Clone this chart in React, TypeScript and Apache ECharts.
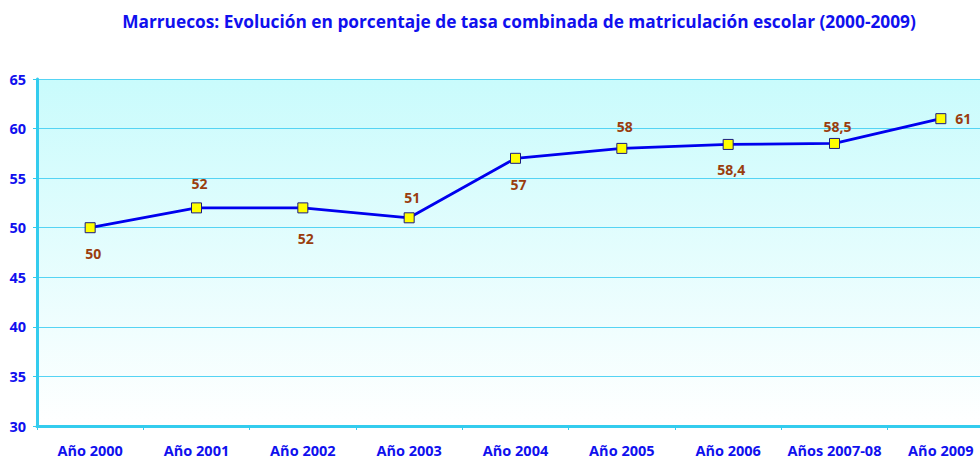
import React, { useEffect, useRef } from "react";
import * as echarts from "echarts";

const categories = ["Año 2000", "Año 2001", "Año 2002", "Año 2003", "Año 2004", "Año 2005", "Año 2006", "Años 2007-08", "Año 2009"];
const values = [50, 52, 52, 51, 57, 58, 58.4, 58.5, 61];
const labelPositions = ["bottom", "top", "bottom", "top", "bottom", "top", "bottom", "top", "right"];
const labelDistances = [13, 12, 18, 8, 14, 9, 13, 4, 9];
const yTicks = { min: 30, max: 65, interval: 5 };

const FONT = "'Open Sans', 'Liberation Sans', sans-serif";

export default function App() {
  const ref = useRef<HTMLDivElement>(null);
  useEffect(() => {
    if (!ref.current) return;
    const chart = echarts.init(ref.current, null, { renderer: "svg" });
    chart.setOption({
      animation: false,
      backgroundColor: "#ffffff",
      title: {
        text: "Marruecos: Evolución en porcentaje de tasa combinada de matriculación escolar (2000-2009)",
        left: 514,
        top: 8,
        textAlign: "center",
        textStyle: { color: "#1010ee", fontFamily: FONT, fontWeight: "bold", fontSize: 17.3 },
      },
      grid: { left: 37, width: 957, top: 79, height: 347, containLabel: false,
        outerBoundsMode: "none",
        show: true, borderWidth: 0,
        backgroundColor: new echarts.graphic.LinearGradient(0, 0, 0, 1, [
          { offset: 0, color: "#c9fbfc" },
          { offset: 1, color: "#ffffff" },
        ]),
      },
      xAxis: {
        type: "category",
        data: categories,
        boundaryGap: true,
        axisLine: { lineStyle: { color: "#33ccee", width: 3 } },
        axisTick: { show: true, alignWithLabel: false, length: 4, lineStyle: { color: "#33ccee", width: 1 } },
        axisLabel: { color: "#1010ee", fontFamily: FONT, fontWeight: "bold", fontSize: 14.5, margin: 17, interval: 0 },
        splitLine: { show: false },
      },
      yAxis: {
        type: "value",
        min: yTicks.min,
        max: yTicks.max,
        interval: yTicks.interval,
        axisLine: { show: true, lineStyle: { color: "#33ccee", width: 3 } },
        axisTick: { show: true, length: 4, lineStyle: { color: "#33ccee", width: 1 } },
        axisLabel: { color: "#1010ee", fontFamily: FONT, fontWeight: "bold", fontSize: 14.5, margin: 11 },
        splitLine: { show: true, lineStyle: { color: "#55d4f4", width: 1 } },
      },
      series: [
        {
          type: "line",
          data: values.map((v, i) => ({
            value: v,
            label: {
              position: labelPositions[i],
              distance: labelDistances[i],
              offset: labelPositions[i] === "right" ? [0, 0] : [3, 0],
            },
          })),
          symbol: "rect",
          symbolSize: 10,
          itemStyle: { color: "#ffff00", borderColor: "#1a1a80", borderWidth: 1 },
          lineStyle: { color: "#0000ee", width: 2.8 },
          label: {
            show: true,
            color: "#9a3d0e",
            fontFamily: FONT,
            fontWeight: "bold",
            fontSize: 14,
            formatter: (p: any) => String(p.value).replace(".", ","),
          },
          z: 5,
        },
      ],
    });
    return () => chart.dispose();
  }, []);
  return <div ref={ref} style={{ width: 980, height: 459, position: "absolute", left: 0, top: 0 }} />;
}
